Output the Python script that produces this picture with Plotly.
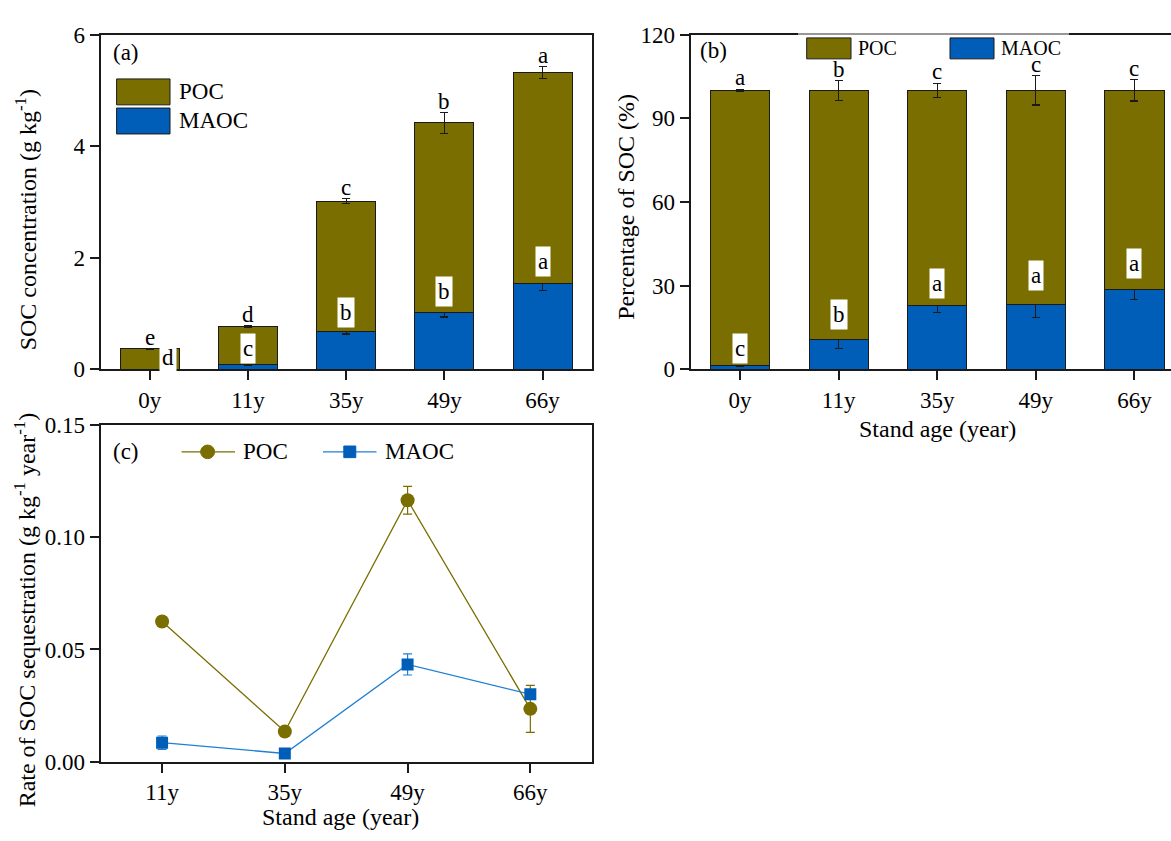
import plotly.graph_objects as go

# ---------------- data ----------------
ages = ["0y", "11y", "35y", "49y", "66y"]

# (a) SOC concentration (g/kg)
maoc_conc = [0.005, 0.087, 0.683, 1.026, 1.536]
poc_conc = [0.36, 0.68, 2.33, 3.39, 3.78]
maoc_conc_err = [0.002, 0.01, 0.05, 0.087, 0.122]
poc_conc_err = [0.005, 0.015, 0.046, 0.186, 0.107]
poc_conc_letters = ["e", "d", "c", "b", "a"]
maoc_conc_letters = ["d", "c", "b", "b", "a"]

# (b) percentage of SOC (%)
maoc_pct = [1.5, 10.8, 22.8, 23.4, 28.7]
poc_pct = [98.5, 89.2, 77.2, 76.6, 71.3]
maoc_pct_err = [0.4, 3.2, 2.3, 4.7, 3.8]
poc_pct_err = [0.4, 3.5, 2.5, 5.2, 3.8]
poc_pct_letters = ["a", "b", "c", "c", "c"]
maoc_pct_letters = ["c", "b", "a", "a", "a"]

# (c) rate of SOC sequestration
rate_ages = ["11y", "35y", "49y", "66y"]
poc_rate = [0.0625, 0.0134, 0.1166, 0.0235]
poc_rate_err = [0.002, 0.001, 0.0062, 0.0105]
maoc_rate = [0.0084, 0.0036, 0.0433, 0.030]
maoc_rate_err = [0.003, 0.001, 0.0047, 0.002]

# ---------------- style ----------------
W, H = 1171, 841
OLIVE = "#7A6E00"
BLUE = "#005EB8"
LBLUE = "#1E7FD6"
DARK = "#1a1a1a"
FONT = "Liberation Serif, Times New Roman, serif"
FS = 23      # tick labels, letters
FT = 24      # axis titles


def px(x):
    return x / W


def py(y):
    return 1 - y / H


fig = go.Figure()

bar_line = dict(color=DARK, width=1)
eb = dict(type="data", visible=True, color=DARK, thickness=1.2, width=4)

# (a)
fig.add_trace(go.Bar(x=ages, y=maoc_conc, name="MAOC", marker=dict(color=BLUE, line=bar_line),
                     width=0.6, error_y=dict(array=maoc_conc_err, **eb), xaxis="x", yaxis="y"))
fig.add_trace(go.Bar(x=ages, y=poc_conc, name="POC", marker=dict(color=OLIVE, line=bar_line),
                     width=0.6, error_y=dict(array=poc_conc_err, **eb), xaxis="x", yaxis="y"))
# (b)
fig.add_trace(go.Bar(x=ages, y=maoc_pct, name="MAOC", marker=dict(color=BLUE, line=bar_line),
                     width=0.6, error_y=dict(array=maoc_pct_err, **eb), xaxis="x2", yaxis="y2"))
fig.add_trace(go.Bar(x=ages, y=poc_pct, name="POC", marker=dict(color=OLIVE, line=bar_line),
                     width=0.6, error_y=dict(array=poc_pct_err, **eb), xaxis="x2", yaxis="y2"))
# (c)
fig.add_trace(go.Scatter(x=rate_ages, y=poc_rate, name="POC", mode="lines+markers",
                         line=dict(color=OLIVE, width=1.3),
                         marker=dict(symbol="circle", size=14, color=OLIVE),
                         error_y=dict(type="data", array=poc_rate_err, color=OLIVE, thickness=1.2, width=4.5),
                         xaxis="x3", yaxis="y3"))
fig.add_trace(go.Scatter(x=rate_ages, y=maoc_rate, name="MAOC", mode="lines+markers",
                         line=dict(color=LBLUE, width=1.3),
                         marker=dict(symbol="square", size=12, color=BLUE),
                         error_y=dict(type="data", array=maoc_rate_err, color=LBLUE, thickness=1.2, width=4.5),
                         xaxis="x3", yaxis="y3"))

axis_common = dict(showline=True, linewidth=2, linecolor=DARK, ticks="outside", ticklen=9,
                   tickwidth=2, tickcolor=DARK, showgrid=False, zeroline=False,
                   tickfont=dict(family=FONT, size=FS, color="black"))

fig.update_layout(
    width=W, height=H, margin=dict(l=0, r=0, t=0, b=0),
    paper_bgcolor="white", plot_bgcolor="white", barmode="stack", showlegend=False,
    font=dict(family=FONT, size=FS, color="black"),
    xaxis=dict(domain=[px(100.7), px(591.7)], range=[-0.5, 4.5], anchor="y", mirror=True, **axis_common),
    yaxis=dict(domain=[py(368.3), py(23.3)], range=[0, 6], dtick=2, anchor="x", mirror=True, **axis_common),
    xaxis2=dict(domain=[px(690.7), 1.0], range=[-0.5, 4.371], anchor="y2", mirror=True, **axis_common),
    yaxis2=dict(domain=[py(368.3), py(23.3)], range=[0, 120], dtick=30, anchor="x2", mirror=False, **axis_common),
    xaxis3=dict(domain=[px(100.7), px(591.7)], range=[-0.5, 3.5], anchor="y3", mirror=True, **axis_common),
    yaxis3=dict(domain=[py(772.5), py(426)], range=[0, 0.15], dtick=0.05, tickformat=".2f",
                anchor="x3", mirror=True, **axis_common),
)

ann = []
shapes = []


def txt(x, y, text, xanchor="center", yanchor="middle", angle=0, size=FS):
    ann.append(dict(x=px(x), y=py(y), xref="paper", yref="paper", text=text, showarrow=False,
                    xanchor=xanchor, yanchor=yanchor, textangle=angle,
                    font=dict(family=FONT, size=size, color="black")))


# significance letters
def letters(xref, yref, maoc, poc, maoc_err, poc_err, top_letters, mid_letters, special_first=False):
    for i in range(len(maoc)):
        top = maoc[i] + poc[i] + poc_err[i]
        ann.append(dict(x=i, y=top, xref=xref, yref=yref, text=top_letters[i], showarrow=False,
                        xanchor="center", yanchor="bottom", yshift=-3,
                        font=dict(family=FONT, size=FS, color="black")))
        mid = maoc[i] + maoc_err[i]
        a = dict(x=i, y=mid, xref=xref, yref=yref, text=mid_letters[i], showarrow=False,
                 xanchor="center", yanchor="bottom", bgcolor="white", borderpad=2,
                 font=dict(family=FONT, size=FS, color="black"))
        if special_first and i == 0:
            a["xshift"] = 18.6
            a["y"] = 0
            a["yshift"] = -4
        ann.append(a)


letters("x", "y", maoc_conc, poc_conc, maoc_conc_err, poc_conc_err,
        poc_conc_letters, maoc_conc_letters, special_first=True)
letters("x2", "y2", maoc_pct, poc_pct, maoc_pct_err, poc_pct_err,
        poc_pct_letters, maoc_pct_letters)

# panel labels
txt(111, 41.7, "(a)", xanchor="left")
txt(698, 39.3, "(b)", xanchor="left")
txt(111, 453.3, "(c)", xanchor="left")

# axis titles
txt(26, 214.7, "SOC concentration (g kg<sup>-1</sup>)", angle=-90, size=FT)
txt(626, 200.8, "Percentage of SOC (%)", angle=-90, size=FT)
txt(25, 616.7, "Rate of SOC sequestration (g kg<sup>-1</sup> year<sup>-1</sup>)", angle=-90, size=FT)
txt(937, 430, "Stand age (year)", size=FT)
txt(340, 830, "Stand age (year)", size=FT)


def rect(x0, y0, x1, y1, fill, line_color=DARK, lw=1, opacity=1.0):
    shapes.append(dict(type="rect", xref="paper", yref="paper", x0=px(x0), x1=px(x1),
                       y0=py(y1), y1=py(y0), fillcolor=fill, opacity=opacity,
                       line=dict(color=line_color, width=lw), layer="above"))


# legend (a)
rect(116.6, 69, 170, 95.7, OLIVE)
rect(116.6, 99, 170, 125.7, BLUE)
txt(176.6, 82.3, "POC", xanchor="left")
txt(176.6, 112.3, "MAOC", xanchor="left")

# legend (b): translucent white backdrop that greys the top frame line
rect(798, 19, 1069, 50, "white", line_color="white", lw=0, opacity=0.55)
rect(806.7, 26.7, 851, 48.3, OLIVE)
rect(950, 26.7, 994, 48.3, BLUE)
txt(856, 37.5, "POC", xanchor="left", size=20)
txt(999, 37.5, "MAOC", xanchor="left", size=20)

# legend (c)
shapes.append(dict(type="line", xref="paper", yref="paper", x0=px(181.6), x1=px(235),
                   y0=py(453.3), y1=py(453.3), line=dict(color=OLIVE, width=1.3), layer="above"))
shapes.append(dict(type="circle", xref="paper", yref="paper", x0=px(200.6), x1=px(214.6),
                   y0=py(460.3), y1=py(446.3), fillcolor=OLIVE, line=dict(color=OLIVE, width=1), layer="above"))
shapes.append(dict(type="line", xref="paper", yref="paper", x0=px(323), x1=px(376.5),
                   y0=py(453.3), y1=py(453.3), line=dict(color=LBLUE, width=1.3), layer="above"))
rect(343.8, 447.3, 355.8, 459.3, BLUE, line_color=BLUE, lw=1)
txt(240.8, 453.3, "POC", xanchor="left")
txt(383.4, 453.3, "MAOC", xanchor="left")

fig.update_layout(annotations=ann, shapes=shapes)
fig.write_html("out.html", config={"displayModeBar": False})
